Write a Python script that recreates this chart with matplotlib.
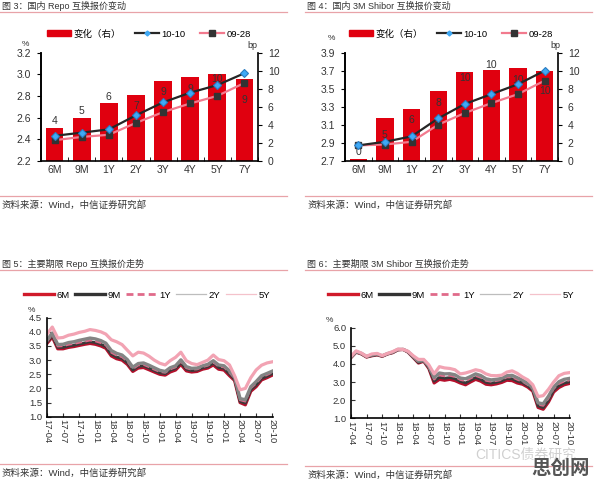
import matplotlib
matplotlib.use('Agg')
import matplotlib.pyplot as plt
from matplotlib.lines import Line2D
from matplotlib.patches import Patch
import pandas as pd
import numpy as np

plt.rcParams['font.family'] = ['Liberation Sans', 'Noto Sans CJK SC', 'DejaVu Sans']
plt.rcParams['axes.unicode_minus'] = False

W, H = 596, 479

# ---- data ----
tenors = ['6M', '9M', '1Y', '2Y', '3Y', '4Y', '5Y', '7Y']

# 图3 国内 Repo 互换报价变动
repo_chg = [3.6, 4.8, 6.4, 7.3, 8.9, 9.3, 9.6, 9.1]          # bp, right axis
repo_1010 = [2.43, 2.46, 2.49, 2.62, 2.74, 2.83, 2.90, 3.01]  # %
repo_0928 = [2.39, 2.42, 2.44, 2.55, 2.65, 2.73, 2.80, 2.92]

# 图4 国内 3M Shibor 互换报价变动
shibor_chg = [0.2, 4.7, 5.8, 7.7, 9.8, 10.1, 10.3, 10.0]
shibor_1010 = [2.87, 2.91, 2.97, 3.17, 3.33, 3.44, 3.55, 3.70]
shibor_0928 = [2.87, 2.88, 2.91, 3.10, 3.23, 3.34, 3.44, 3.59]

# monthly points 2017-04 .. 2020-10
months = pd.date_range('2017-04-01', '2020-10-01', freq='MS')
series_names = ['6M', '9M', '1Y', '2Y', '5Y']

repo_6m = [3.59, 3.82, 3.40, 3.40, 3.45, 3.48, 3.52, 3.56, 3.59, 3.56, 3.50, 3.42, 3.15, 3.05, 3.00,
           2.85, 2.60, 2.72, 2.74, 2.66, 2.58, 2.50, 2.47, 2.58, 2.65, 2.85, 2.62, 2.58, 2.60, 2.68,
           2.72, 2.83, 2.68, 2.65, 2.45, 2.28, 1.50, 1.42, 1.90, 2.06, 2.30, 2.38, 2.47]
repo_9m = [3.63, 3.87, 3.45, 3.45, 3.50, 3.53, 3.57, 3.61, 3.65, 3.62, 3.56, 3.48, 3.21, 3.11, 3.06,
           2.91, 2.65, 2.78, 2.80, 2.72, 2.63, 2.55, 2.52, 2.64, 2.71, 2.91, 2.68, 2.63, 2.65, 2.73,
           2.77, 2.89, 2.74, 2.71, 2.51, 2.32, 1.54, 1.48, 1.96, 2.12, 2.35, 2.43, 2.52]
repo_1y = [3.66, 3.91, 3.49, 3.50, 3.55, 3.58, 3.62, 3.66, 3.70, 3.67, 3.61, 3.53, 3.27, 3.17, 3.11,
           2.96, 2.69, 2.82, 2.84, 2.76, 2.67, 2.59, 2.56, 2.68, 2.75, 2.96, 2.72, 2.67, 2.68, 2.76,
           2.81, 2.93, 2.78, 2.75, 2.56, 2.36, 1.59, 1.54, 2.01, 2.18, 2.40, 2.48, 2.57]
repo_2y = [3.71, 3.96, 3.55, 3.56, 3.62, 3.65, 3.70, 3.74, 3.78, 3.75, 3.69, 3.60, 3.34, 3.24, 3.18,
           3.02, 2.75, 2.88, 2.90, 2.82, 2.73, 2.64, 2.60, 2.73, 2.80, 3.01, 2.77, 2.71, 2.72, 2.80,
           2.85, 2.98, 2.83, 2.80, 2.62, 2.40, 1.64, 1.60, 2.06, 2.24, 2.45, 2.53, 2.61]
repo_5y = [3.92, 4.17, 3.78, 3.80, 3.88, 3.92, 3.98, 4.02, 4.08, 4.05, 4.00, 3.92, 3.72, 3.65, 3.55,
           3.35, 3.15, 3.28, 3.25, 3.14, 3.00, 2.89, 2.83, 2.98, 3.10, 3.28, 2.98, 2.88, 2.84, 2.92,
           3.00, 3.18, 3.02, 2.98, 2.83, 2.45, 1.95, 2.00, 2.38, 2.65, 2.82, 2.90, 2.94]

shb_6m = [4.35, 4.65, 4.55, 4.38, 4.45, 4.50, 4.42, 4.55, 4.62, 4.78, 4.80, 4.65, 4.35, 4.05, 4.15,
          3.75, 2.95, 3.15, 3.10, 3.15, 3.08, 2.95, 2.85, 3.00, 3.15, 3.05, 2.88, 2.85, 2.90, 2.98,
          3.10, 3.08, 2.95, 2.88, 2.72, 2.50, 1.60, 1.50, 1.90, 2.45, 2.70, 2.85, 2.92]
shb_9m = [4.36, 4.66, 4.56, 4.39, 4.46, 4.51, 4.43, 4.55, 4.63, 4.78, 4.80, 4.66, 4.36, 4.08, 4.17,
          3.79, 3.05, 3.26, 3.21, 3.25, 3.18, 3.04, 2.95, 3.10, 3.25, 3.15, 2.98, 2.94, 2.99, 3.07,
          3.20, 3.18, 3.05, 2.96, 2.79, 2.57, 1.68, 1.59, 2.00, 2.55, 2.80, 2.94, 3.01]
shb_1y = [4.37, 4.67, 4.57, 4.40, 4.48, 4.52, 4.44, 4.56, 4.64, 4.79, 4.80, 4.67, 4.38, 4.11, 4.18,
          3.83, 3.15, 3.38, 3.33, 3.36, 3.29, 3.13, 3.06, 3.20, 3.35, 3.25, 3.08, 3.03, 3.07, 3.13,
          3.27, 3.27, 3.14, 3.03, 2.85, 2.62, 1.76, 1.70, 2.11, 2.63, 2.91, 3.04, 3.10]
shb_2y = [4.39, 4.68, 4.58, 4.41, 4.50, 4.54, 4.45, 4.57, 4.65, 4.80, 4.80, 4.68, 4.40, 4.15, 4.20,
          3.87, 3.25, 3.50, 3.45, 3.46, 3.40, 3.22, 3.18, 3.30, 3.45, 3.36, 3.18, 3.12, 3.15, 3.20,
          3.35, 3.37, 3.24, 3.10, 2.92, 2.68, 1.85, 1.80, 2.22, 2.72, 3.02, 3.15, 3.20]
shb_5y = [4.42, 4.72, 4.60, 4.42, 4.55, 4.58, 4.46, 4.58, 4.68, 4.82, 4.80, 4.70, 4.45, 4.25, 4.25,
          3.95, 3.45, 3.85, 3.78, 3.75, 3.68, 3.45, 3.50, 3.58, 3.68, 3.62, 3.45, 3.36, 3.35, 3.38,
          3.55, 3.62, 3.48, 3.28, 3.12, 2.85, 2.20, 2.25, 2.60, 3.00, 3.35, 3.48, 3.52]

# ---- styles ----
BAR_RED = '#E0000F'
PINK_RULE = '#E8A3A8'
TXT = '#333333'

# bar label offsets from bar top (bp)
repo_lab_dy = [0.8, 0.7, 0.7, -1.2, -1.3, -1.3, -0.5, -2.4]
shibor_lab_dy = [0.8, -1.9, -1.3, -1.3, -0.6, 0.5, -1.3, -2.3]


def rect(l, t, r, b):
    return [l / W, 1 - b / H, (r - l) / W, (b - t) / H]


def fx(x):
    return x / W


def fy(y):
    return 1 - y / H


fig = plt.figure(figsize=(W / 100, H / 100), dpi=100)


def header(x0, x1, y_text, y_line, title):
    fig.text(fx(x0 + 2), fy(y_text), title, fontsize=6.5, ha='left', va='center', color=TXT)
    fig.add_artist(Line2D([fx(x0), fx(x1)], [fy(y_line)] * 2, color=PINK_RULE, lw=0.9))


def source(x0, x1, y_line, y_text):
    fig.add_artist(Line2D([fx(x0), fx(x1)], [fy(y_line)] * 2, color=PINK_RULE, lw=0.9))
    fig.text(fx(x0 + 2), fy(y_text), '资料来源：Wind，中信证券研究部', fontsize=6.8,
             ha='left', va='center', color=TXT)


def bar_panel(box, chg, l1010, l0928, ylim, yticks, lab_dy, legend_cx, pct_xy, bp_xy):
    ax = fig.add_axes(rect(*box))
    x = np.arange(len(tenors))
    ax.bar(x, chg, width=0.65, color=BAR_RED, zorder=1)
    for xi, v, dy in zip(x, chg, lab_dy):
        ax.text(xi, v + dy, '%.0f' % v, ha='center', va='center', fontsize=7.5, color=TXT, zorder=3)
    ax2 = ax.twinx()

    ax.yaxis.tick_right()
    ax.set_ylim(0, 12)
    ax.set_yticks(range(0, 13, 2))
    ax.set_xlim(-0.5, len(tenors) - 0.5)
    ax.set_xticks(x)
    ax.set_xticklabels(tenors)
    ax.set_xticks(np.arange(-0.5, len(tenors), 1), minor=True)
    ax.tick_params(axis='x', which='major', length=0, labelsize=7.5, pad=3, colors=TXT)
    ax.tick_params(axis='x', which='minor', length=3, direction='in')
    ax.tick_params(axis='y', length=3, direction='out', labelsize=7.5, pad=4, labelcolor=TXT)
    for s in ['left', 'right', 'bottom']:
        ax.spines[s].set_linewidth(1.2)
    ax.spines['top'].set_visible(False)

    ax2.yaxis.tick_left()
    ax2.plot(x, l0928, color='#F27A8E', lw=1.6, marker='s', ms=4.5,
             mfc='#333333', mec='#333333', zorder=4)
    ax2.plot(x, l1010, color='#262626', lw=1.6, marker='D', ms=4.5,
             mfc='#3FA9F5', mec='#2B7CC0', mew=0.8, zorder=5)
    ax2.set_ylim(*ylim)
    ax2.set_yticks(yticks)
    ax2.yaxis.set_major_formatter(matplotlib.ticker.FormatStrFormatter('%.1f'))
    ax2.tick_params(axis='y', length=3, direction='out', labelsize=7.5, pad=4, labelcolor=TXT)
    for s in ['top', 'right', 'bottom']:
        ax2.spines[s].set_visible(False)
    ax2.spines['left'].set_linewidth(1.2)

    handles = [Patch(color=BAR_RED),
               Line2D([], [], color='#262626', lw=1.6, marker='D', ms=2.5, mfc='#3FA9F5', mec='#3FA9F5'),
               Line2D([], [], color='#F27A8E', lw=1.6, marker='s', ms=4, mfc='#333333', mec='#333333')]
    fig.legend(handles, ['变化（右）', '10-10', '09-28'], loc='center',
               bbox_to_anchor=(fx(legend_cx), fy(34)), ncol=3, frameon=False, fontsize=6.8,
               handlelength=2.5, handleheight=0.6, handletextpad=0.3, columnspacing=1.5)
    fig.text(fx(pct_xy[0]), fy(pct_xy[1]), '%', fontsize=6, ha='center', va='center', color=TXT)
    fig.text(fx(bp_xy[0]), fy(bp_xy[1]), 'bp', fontsize=6.5, ha='center', va='center', color=TXT)


def line_panel(box, data, ylim, yticks, legend_cx, pct_xy):
    ax = fig.add_axes(rect(*box))
    styles = [dict(color='#B5102C', lw=2.3),
              dict(color='#3A3A3A', lw=2.0),
              dict(color='#E06A8A', lw=1.6, ls=(0, (3, 1.5))),
              dict(color='#848484', lw=2.4),
              dict(color='#F2A3B3', lw=2.3)]
    for vals, st in zip(data, styles):
        ax.plot(months, vals, **st)
    ax.set_ylim(*ylim)
    ax.set_yticks(yticks)
    ax.yaxis.set_major_formatter(matplotlib.ticker.FormatStrFormatter('%.1f'))
    ax.set_xlim(pd.Timestamp('2017-04-01'), pd.Timestamp('2020-10-05'))
    ticks = pd.date_range('2017-04-01', '2020-10-01', freq='3MS')
    ax.set_xticks(ticks)
    ax.set_xticklabels([t.strftime('%y-%m') for t in ticks], rotation=-90)
    ax.tick_params(axis='both', direction='in', length=3, labelsize=6.8, colors=TXT)
    ax.tick_params(axis='x', pad=2)
    for s in ['top', 'right']:
        ax.spines[s].set_visible(False)
    for s in ['left', 'bottom']:
        ax.spines[s].set_linewidth(1.2)

    handles = [Line2D([], [], color='#D01A2A', lw=2.4),
               Line2D([], [], color='#333333', lw=2.4),
               Line2D([], [], color='#E06A8A', lw=2.0, ls=(0, (2.5, 1.5))),
               Line2D([], [], color='#BDBDBD', lw=0.9),
               Line2D([], [], color='#F4C2CB', lw=0.9)]
    fig.legend(handles, series_names, loc='center', bbox_to_anchor=(fx(legend_cx), fy(295)),
               ncol=5, frameon=False, fontsize=6.8, handlelength=3.2,
               handletextpad=0.25, columnspacing=0.6)
    fig.text(fx(pct_xy[0]), fy(pct_xy[1]), '%', fontsize=6, ha='center', va='center', color=TXT)


# 图3
header(0, 287, 6, 12, '图 3：国内 Repo 互换报价变动')
bar_panel((41, 52.7, 258, 160.7), repo_chg, repo_1010, repo_0928, (2.2, 3.2),
          np.arange(2.2, 3.21, 0.2), repo_lab_dy, 149, (25, 44), (252, 45))
source(0, 287, 196, 205)

# 图4
header(305, 592, 6, 12, '图 4：国内 3M Shibor 互换报价变动')
bar_panel((345, 52.7, 558, 160.7), shibor_chg, shibor_1010, shibor_0928, (2.7, 3.9),
          np.arange(2.7, 3.91, 0.2), shibor_lab_dy, 451, (331, 39), (555, 46))
source(305, 592, 196, 205)

# 图5
header(0, 287, 264, 270, '图 5：主要期限 Repo 互换报价走势')
line_panel((47, 317.7, 273, 416.7), [repo_6m, repo_9m, repo_1y, repo_2y, repo_5y],
           (1.0, 4.5), np.arange(1.0, 4.51, 0.5), 147, (31, 311))
source(0, 287, 464, 473)

# 图6
header(305, 592, 264, 270, '图 6：主要期限 3M Shibor 互换报价走势')
line_panel((351, 327.7, 570, 418.3), [shb_6m, shb_9m, shb_1y, shb_2y, shb_5y],
           (1.0, 6.0), np.arange(1.0, 6.01, 1.0), 451, (329, 320))
source(305, 592, 466, 475)

# watermark
fig.text(fx(475), fy(455), 'CITICS债券研究', fontsize=10, color='#D0D0D0', ha='left', va='center')
fig.text(fx(590), fy(469), '思创网', fontsize=14, color='#555555', fontweight='bold',
         ha='right', va='center')

fig.savefig('out.png', dpi=100)
